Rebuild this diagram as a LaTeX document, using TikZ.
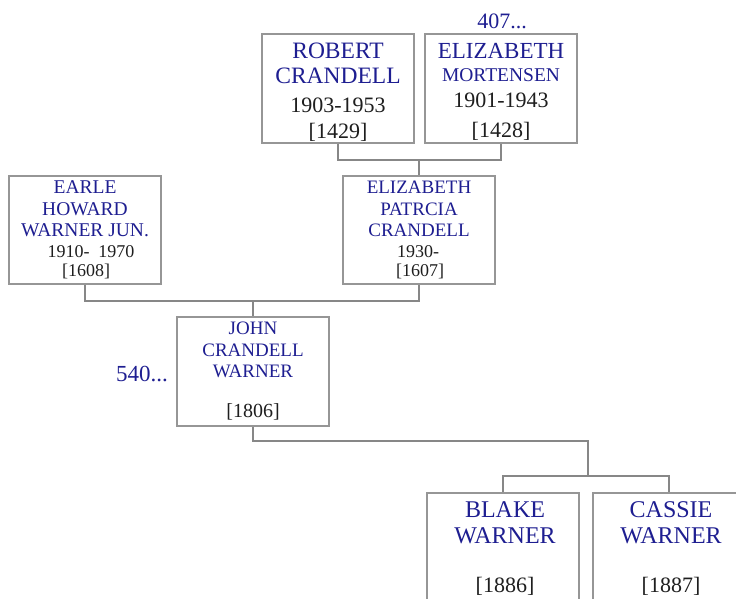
\documentclass[tikz,border=0pt]{standalone}
\usepackage{fontspec}
\setmainfont{Liberation Serif}
\definecolor{nameblue}{RGB}{30,30,145}
\definecolor{datetext}{RGB}{30,30,30}
\definecolor{boxline}{RGB}{150,150,150}
\definecolor{linkline}{RGB}{135,135,135}
\newcommand{\fs}[1]{\fontsize{#1}{#1}\selectfont}
\begin{document}
\begin{tikzpicture}[x=1pt,y=-1pt,
  person/.style={draw=boxline,line width=1.2pt,minimum width=152pt,minimum height=109pt,inner sep=0pt,fill=white},
  nm/.style={inner sep=0pt,anchor=base,text=nameblue},
  dt/.style={inner sep=0pt,anchor=base,text=datetext},
  link/.style={draw=linkline,line width=1.2pt}]
\useasboundingbox (0,0) rectangle (736,598);
\clip (0,0) rectangle (736,598);
% boxes
\node[person] (rc) at (338,88.5) {};
\node[person] (em) at (501,88.5) {};
\node[person,minimum height=108pt] (ew) at (85,230) {};
\node[person,minimum height=108pt] (ep) at (419,230) {};
\node[person] (jc) at (253,371.5) {};
\node[person] (bw) at (503,547.5) {};
\node[person] (cw) at (669,547.5) {};
% connectors
\coordinate (j1) at (419,160);
\draw[link] (rc.south) |- (j1) -| (em.south);
\draw[link] (j1) -- (ep.north);
\coordinate (j2) at (253,301);
\draw[link] (ew.south) |- (j2) -| (ep.south);
\draw[link] (j2) -- (jc.north);
\coordinate (k3) at (588,441);
\coordinate (j3) at (588,476);
\draw[link] (jc.south) |- (k3) -- (j3);
\draw[link] (bw.north) |- (j3) -| (cw.north);
% Robert Crandell
\node[nm,font=\fs{23.5}] (rc1) at (338,58) {ROBERT};
\node[nm,font=\fs{23.5}] (rc2) at (338,83) {CRANDELL};
\node[dt,font=\fs{22}] (rc3) at (338,112) {1903-1953};
\node[dt,font=\fs{22}] (rc4) at (338,138) {[1429]};
% Elizabeth Mortensen
\node[nm,font=\fs{22}] (em0) at (502,28) {407...};
\node[nm,font=\fs{23}] (em1) at (501,58) {ELIZABETH};
\node[nm,font=\fs{19.5}] (em2) at (501,81) {MORTENSEN};
\node[dt,font=\fs{22}] (em3) at (501,107) {1901-1943};
\node[dt,font=\fs{22}] (em4) at (501,137) {[1428]};
% Earle Howard Warner Jun.
\node[nm,font=\fs{19.5}] (ew1) at (85,193) {EARLE};
\node[nm,font=\fs{19.5}] (ew2) at (85,215) {HOWARD};
\node[nm,font=\fs{19.5}] (ew3) at (85,236) {WARNER JUN.};
\node[dt,font=\fs{18}] (ew4) at (91,257) {1910-\ \ 1970};
\node[dt,font=\fs{18}] (ew5) at (86,276) {[1608]};
% Elizabeth Patrcia Crandell
\node[nm,font=\fs{19}] (ep1) at (419,193) {ELIZABETH};
\node[nm,font=\fs{19}] (ep2) at (419,215) {PATRCIA};
\node[nm,font=\fs{19}] (ep3) at (419,236) {CRANDELL};
\node[dt,font=\fs{18}] (ep4) at (418,257) {1930-};
\node[dt,font=\fs{18}] (ep5) at (420,276) {[1607]};
% John Crandell Warner
\node[nm,font=\fs{23}] (jc0) at (142,381) {540...};
\node[nm,font=\fs{19}] (jc1) at (253,334) {JOHN};
\node[nm,font=\fs{19}] (jc2) at (253,356) {CRANDELL};
\node[nm,font=\fs{19}] (jc3) at (253,377) {WARNER};
\node[dt,font=\fs{20}] (jc4) at (253,417) {[1806]};
% Blake Warner
\node[nm,font=\fs{24}] (bw1) at (505,517) {BLAKE};
\node[nm,font=\fs{24}] (bw2) at (505,543) {WARNER};
\node[dt,font=\fs{22}] (bw3) at (505,592) {[1886]};
% Cassie Warner
\node[nm,font=\fs{24}] (cw1) at (671,517) {CASSIE};
\node[nm,font=\fs{24}] (cw2) at (671,543) {WARNER};
\node[dt,font=\fs{22}] (cw3) at (671,592) {[1887]};
\end{tikzpicture}
\end{document}
